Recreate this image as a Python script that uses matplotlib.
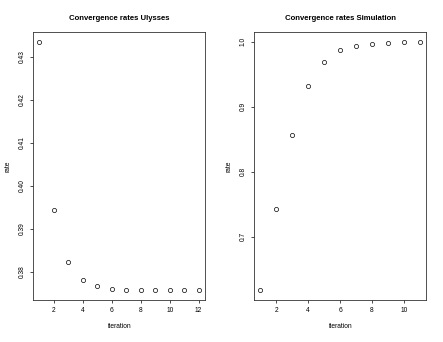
import numpy as np
import matplotlib
matplotlib.use("Agg")
import matplotlib.pyplot as plt

plt.rcParams['font.family'] = ['Liberation Sans', 'DejaVu Sans']

# Datos
iter_ulysses = list(range(1, 13))
rate_ulysses = [0.4334, 0.3944, 0.3823, 0.3781, 0.3766, 0.3760,
                0.3758, 0.3757, 0.3757, 0.3757, 0.3757, 0.3757]

iter_sim = list(range(1, 12))
rate_sim = [0.618, 0.742, 0.856, 0.931, 0.969, 0.987,
            0.994, 0.997, 0.998, 0.999, 0.9995]

titles = ["Convergence rates Ulysses", "Convergence rates Simulation"]
xticks = [[2, 4, 6, 8, 10, 12], [2, 4, 6, 8, 10]]
yticks = [[0.38, 0.39, 0.40, 0.41, 0.42, 0.43], [0.7, 0.8, 0.9, 1.0]]
ylabels_txt = [["0.38", "0.39", "0.40", "0.41", "0.42", "0.43"],
               ["0.7", "0.8", "0.9", "1.0"]]

fig = plt.figure(figsize=(4.43, 3.42), dpi=100)
boxes = [[0.0745, 0.1228, 0.3883, 0.7836], [0.5734, 0.1228, 0.3882, 0.7836]]


def r_lim(v):
    lo, hi = min(v), max(v)
    d = (hi - lo) * 0.04
    return lo - d, hi + d


for k, (xs, ys) in enumerate([(iter_ulysses, rate_ulysses), (iter_sim, rate_sim)]):
    ax = fig.add_axes(boxes[k])
    ax.plot(xs, ys, 'o', mfc='none', mec='black', ms=3.0, mew=0.5)
    ax.set_xlim(*r_lim(xs))
    ax.set_ylim(*r_lim(ys))
    ax.set_xticks(xticks[k])
    ax.set_yticks(yticks[k])
    ax.set_yticklabels(ylabels_txt[k], rotation=90, va='center')
    ax.tick_params(labelsize=4.8, length=2.2, width=0.5, pad=3)
    for s in ax.spines.values():
        s.set_linewidth(0.6)
        s.set_color('#333333')
    ax.set_title(titles[k], fontsize=5.6, fontweight='bold', pad=9)
    ax.set_xlabel('iteration', fontsize=4.8, labelpad=6)
    ax.set_ylabel('rate', fontsize=4.8, labelpad=5)

fig.savefig('out.png', dpi=100)
